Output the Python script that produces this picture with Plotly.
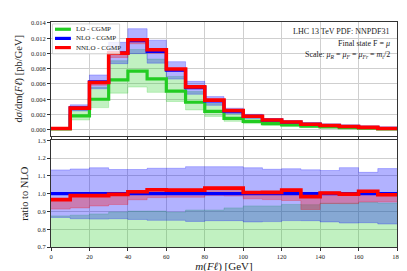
import plotly.graph_objects as go

# ---------------- data ----------------
edges = [0, 10, 20, 30, 40, 50, 60, 70, 80, 90, 100, 110, 120, 130, 140, 150, 160, 170, 180]

lo = [0.00010, 0.00182, 0.00400, 0.00654, 0.00768, 0.00667, 0.00506, 0.00360, 0.00240,
      0.00150, 0.00110, 0.00080, 0.00063, 0.00047, 0.00036, 0.00027, 0.00019, 0.00011]
lo_hi = [0.000140, 0.002523, 0.005555, 0.009051, 0.010526, 0.009264, 0.006990, 0.005003, 0.003423,
         0.002254, 0.001639, 0.001173, 0.000930, 0.000685, 0.000530, 0.000407, 0.000285, 0.000161]
lo_lo = [0.00007, 0.00128, 0.00290, 0.00480, 0.00560, 0.00490, 0.00370, 0.00260, 0.00175,
         0.00110, 0.00080, 0.00058, 0.00046, 0.00034, 0.00026, 0.00020, 0.00014, 0.00008]

nlo = [0.00016, 0.00287, 0.00627, 0.01009, 0.01167, 0.01027, 0.00781, 0.00551, 0.00377,
       0.00245, 0.00176, 0.00126, 0.00099, 0.00073, 0.00056, 0.00043, 0.00030, 0.00017]
nlo_hi = [0.0001814, 0.003269, 0.007185, 0.011462, 0.013257, 0.011739, 0.008927, 0.006348, 0.004343,
          0.002822, 0.002017, 0.001433, 0.001129, 0.000828, 0.000633, 0.000493, 0.000336, 0.000194]
nlo_lo = [0.0001386, 0.002465, 0.005373, 0.008667, 0.009978, 0.008730, 0.006639, 0.004650, 0.003197,
          0.002078, 0.001480, 0.001062, 0.000840, 0.000619, 0.000471, 0.000359, 0.000251, 0.000141]

nnlo = [0.0001546, 0.002838, 0.006201, 0.010050, 0.011798, 0.010496, 0.007966, 0.005620, 0.003887,
        0.002526, 0.001772, 0.001269, 0.001010, 0.000718, 0.0005622, 0.000429, 0.000304, 0.000169]
nnlo_hi = [0.0001555, 0.002856, 0.006239, 0.010110, 0.011868, 0.010558, 0.008013, 0.005653, 0.003909,
           0.002541, 0.001783, 0.001276, 0.001016, 0.000723, 0.000566, 0.000432, 0.000305, 0.000170]
nnlo_lo = [0.0001461, 0.002640, 0.005837, 0.009475, 0.011273, 0.010044, 0.007654, 0.005400, 0.003729,
           0.002418, 0.001709, 0.001218, 0.000952, 0.000665, 0.000529, 0.000406, 0.000286, 0.000162]

labels = ["LO - CGMP", "NLO - CGMP", "NNLO - CGMP"]
x_ticks = [0, 20, 40, 60, 80, 100, 120, 140, 160, 180]
y_ticks_top = [0.000, 0.002, 0.004, 0.006, 0.008, 0.010, 0.012, 0.014]
y_ticks_bot = [0.7, 0.8, 0.9, 1.0, 1.1, 1.2, 1.3]

# ---------------- style ----------------
FONT = "Liberation Serif"
GREEN = "#22cc22"
BLUE = "#0000ff"
RED = "#ff0000"
BAND = {GREEN: "rgba(34,204,34,0.28)", BLUE: "rgba(0,0,255,0.3)", RED: "rgba(255,0,0,0.3)"}

# plot-area geometry (pixels) used for paper-coordinate placement
ML, MR, MT, MB, W, H = 41, 18, 10, 28, 407, 271
PW, PH = W - ML - MR, H - MT - MB


def px_x(px):
    return (px - ML) / PW


def px_y(py):
    return (H - MB - py) / PH


def stepy(v):
    return list(v) + [v[-1]]


def ratio(a):
    return [ai / bi for ai, bi in zip(a, nlo)]


fig = go.Figure()


def add_band(lo_vals, hi_vals, color, xa, ya):
    fig.add_trace(go.Scatter(x=edges, y=stepy(lo_vals), mode="lines", line=dict(shape="hv", width=0.8, color=BAND[color]),
                             showlegend=False, hoverinfo="skip", xaxis=xa, yaxis=ya))
    fig.add_trace(go.Scatter(x=edges, y=stepy(hi_vals), mode="lines", line=dict(shape="hv", width=0.8, color=BAND[color]),
                             fill="tonexty", fillcolor=BAND[color], showlegend=False, hoverinfo="skip", xaxis=xa, yaxis=ya))


def add_line(vals, color, name, xa, ya, width=3.2):
    fig.add_trace(go.Scatter(x=edges, y=stepy(vals), mode="lines", line=dict(shape="hv", width=width, color=color),
                             name=name, showlegend=False, xaxis=xa, yaxis=ya))


# top panel
add_band(lo_lo, lo_hi, GREEN, "x", "y")
add_band(nlo_lo, nlo_hi, BLUE, "x", "y")
add_band(nnlo_lo, nnlo_hi, RED, "x", "y")
add_line(lo, GREEN, labels[0], "x", "y")
add_line(nlo, BLUE, labels[1], "x", "y")
add_line(nnlo, RED, labels[2], "x", "y", width=3.6)

# ratio panel
add_band(ratio(lo_lo), ratio(lo_hi), GREEN, "x2", "y2")
add_band(ratio(nlo_lo), ratio(nlo_hi), BLUE, "x2", "y2")
add_band(ratio(nnlo_lo), ratio(nnlo_hi), RED, "x2", "y2")
add_line(ratio(lo), GREEN, labels[0], "x2", "y2")
add_line(ratio(nlo), BLUE, labels[1], "x2", "y2")
add_line(ratio(nnlo), RED, labels[2], "x2", "y2", width=3.6)

axis_common = dict(showline=True, mirror=True, linecolor="#333333", linewidth=1,
                   showgrid=True, gridcolor="#cfcfcf", gridwidth=1, zeroline=False,
                   ticks="outside", ticklen=3, tickwidth=0.8, tickcolor="#333333",
                   tickfont=dict(family=FONT, size=6.5, color="#222222"))

fig.update_layout(
    width=W, height=H,
    margin=dict(l=ML, r=MR, t=MT, b=MB),
    paper_bgcolor="white", plot_bgcolor="white",
    font=dict(family=FONT, color="#222222"),
    showlegend=False,
    xaxis=dict(domain=[0, 1], anchor="y", range=[0, 180], tickvals=x_ticks, showticklabels=False, **axis_common),
    yaxis=dict(domain=[0.4955, 1], anchor="x", range=[-0.00076, 0.01413], tickvals=y_ticks_top,
               tickformat=".3f",
               title=dict(text="d<i>σ</i>/dm(<i>Fℓ</i>) [pb/GeV]", font=dict(family=FONT, size=10.5), standoff=6),
               **axis_common),
    xaxis2=dict(domain=[0, 1], anchor="y2", range=[0, 180], tickvals=x_ticks, matches="x",
                title=dict(text="<i>m</i>(<i>Fℓ</i>) [GeV]", font=dict(family=FONT, size=11), standoff=2),
                **axis_common),
    yaxis2=dict(domain=[0, 0.474], anchor="x2", range=[0.7, 1.3], tickvals=y_ticks_bot, tickformat=".1f",
                title=dict(text="ratio to NLO", font=dict(family=FONT, size=10.5), standoff=6),
                **axis_common),
)

# legend box (drawn as shapes + text)
fig.add_shape(type="rect", xref="paper", yref="paper", x0=px_x(42.5), x1=px_x(110), y0=px_y(43), y1=px_y(12),
              line=dict(color="#cccccc", width=0.8), fillcolor="rgba(255,255,255,0.8)", layer="above")
for i, (lab, col) in enumerate(zip(labels, [GREEN, BLUE, RED])):
    yy = px_y(17.5 + 9.5 * i)
    fig.add_shape(type="line", xref="paper", yref="paper", x0=px_x(45), x1=px_x(61), y0=yy, y1=yy,
                  line=dict(color=col, width=3.2), layer="above")
    fig.add_annotation(text=lab, xref="paper", yref="paper", x=px_x(64), y=yy, xanchor="left", yanchor="middle",
                       showarrow=False, font=dict(family=FONT, size=7, color="#222222"))

notes = ["LHC 13 TeV PDF: NNPDF31",
         "Final state F = <i>μ</i>",
         "Scale: <i>μ</i><sub><i>R</i></sub> = <i>μ</i><sub><i>F</i></sub> = <i>μ</i><sub><i>Fr</i></sub> = <i>m</i><sub><i>t</i></sub>/2"]
for i, t in enumerate(notes):
    fig.add_annotation(text=t, xref="paper", yref="paper", x=px_x(384), y=px_y(20 + 12 * i),
                       xanchor="right", yanchor="middle", showarrow=False,
                       font=dict(family=FONT, size=8, color="#222222"))

fig.write_html("out.html")
